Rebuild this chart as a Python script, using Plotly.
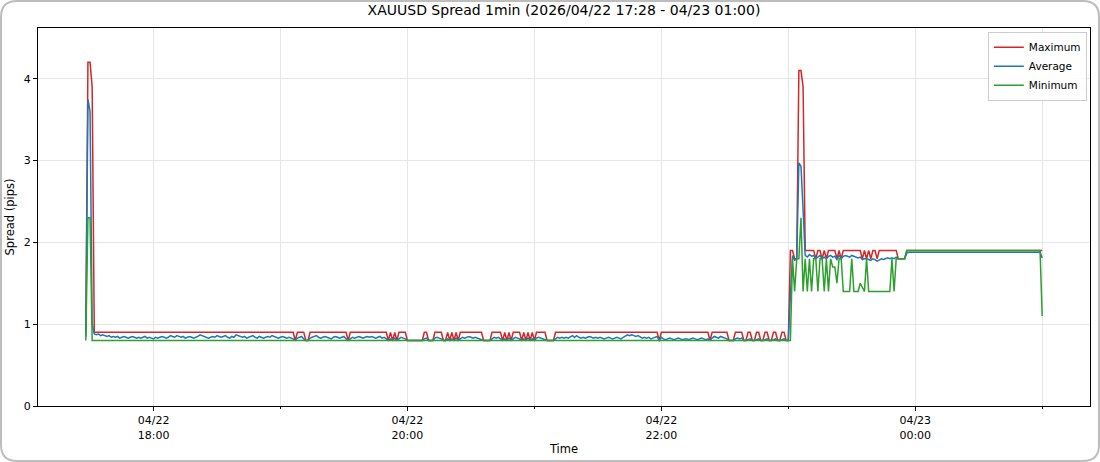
import pandas as pd
import plotly.graph_objects as go

# ---------------- data (1-minute spread in pips, 17:28 -> 01:00) ----------------
start_time = "2026-04-22 17:28"

max_pips = [
    0.9, 4.2, 4.2, 3.9, 0.9, 0.9, 0.9, 0.9, 0.9, 0.9,
    0.9, 0.9, 0.9, 0.9, 0.9, 0.9, 0.9, 0.9, 0.9, 0.9,
    0.9, 0.9, 0.9, 0.9, 0.9, 0.9, 0.9, 0.9, 0.9, 0.9,
    0.9, 0.9, 0.9, 0.9, 0.9, 0.9, 0.9, 0.9, 0.9, 0.9,
    0.9, 0.9, 0.9, 0.9, 0.9, 0.9, 0.9, 0.9, 0.9, 0.9,
    0.9, 0.9, 0.9, 0.9, 0.9, 0.9, 0.9, 0.9, 0.9, 0.9,
    0.9, 0.9, 0.9, 0.9, 0.9, 0.9, 0.9, 0.9, 0.9, 0.9,
    0.9, 0.9, 0.9, 0.9, 0.9, 0.9, 0.9, 0.9, 0.9, 0.9,
    0.9, 0.9, 0.9, 0.9, 0.9, 0.9, 0.9, 0.9, 0.9, 0.9,
    0.9, 0.9, 0.9, 0.9, 0.9, 0.9, 0.9, 0.9, 0.9, 0.8,
    0.9, 0.9, 0.9, 0.9, 0.8, 0.8, 0.9, 0.9, 0.9, 0.9,
    0.9, 0.9, 0.9, 0.9, 0.9, 0.9, 0.9, 0.9, 0.9, 0.9,
    0.9, 0.9, 0.9, 0.9, 0.8, 0.9, 0.9, 0.9, 0.9, 0.9,
    0.9, 0.9, 0.9, 0.9, 0.9, 0.9, 0.9, 0.9, 0.9, 0.9,
    0.9, 0.9, 0.9, 0.8, 0.9, 0.8, 0.9, 0.8, 0.9, 0.9,
    0.9, 0.9, 0.8, 0.8, 0.8, 0.8, 0.8, 0.8, 0.8, 0.8,
    0.9, 0.9, 0.8, 0.8, 0.8, 0.9, 0.9, 0.9, 0.9, 0.8,
    0.8, 0.9, 0.8, 0.9, 0.8, 0.9, 0.8, 0.9, 0.9, 0.9,
    0.9, 0.9, 0.9, 0.9, 0.9, 0.9, 0.9, 0.9, 0.8, 0.8,
    0.8, 0.8, 0.9, 0.9, 0.9, 0.9, 0.9, 0.8, 0.9, 0.8,
    0.9, 0.8, 0.9, 0.9, 0.9, 0.9, 0.8, 0.9, 0.8, 0.9,
    0.8, 0.9, 0.8, 0.9, 0.9, 0.9, 0.9, 0.9, 0.8, 0.8,
    0.8, 0.8, 0.9, 0.9, 0.9, 0.9, 0.9, 0.9, 0.9, 0.9,
    0.9, 0.9, 0.9, 0.9, 0.9, 0.9, 0.9, 0.9, 0.9, 0.9,
    0.9, 0.9, 0.9, 0.9, 0.9, 0.9, 0.9, 0.9, 0.9, 0.9,
    0.9, 0.9, 0.9, 0.9, 0.9, 0.9, 0.9, 0.9, 0.9, 0.9,
    0.9, 0.9, 0.9, 0.9, 0.9, 0.9, 0.9, 0.9, 0.9, 0.9,
    0.9, 0.8, 0.9, 0.9, 0.9, 0.9, 0.9, 0.9, 0.9, 0.9,
    0.9, 0.9, 0.9, 0.9, 0.9, 0.9, 0.9, 0.9, 0.9, 0.9,
    0.9, 0.9, 0.9, 0.9, 0.9, 0.8, 0.9, 0.9, 0.9, 0.9,
    0.9, 0.9, 0.9, 0.9, 0.8, 0.8, 0.8, 0.9, 0.9, 0.9,
    0.9, 0.8, 0.8, 0.9, 0.9, 0.8, 0.8, 0.9, 0.9, 0.8,
    0.8, 0.9, 0.9, 0.8, 0.8, 0.9, 0.9, 0.8, 0.8, 0.9,
    0.9, 0.8, 0.8, 1.9, 1.9, 1.8, 1.8, 4.1, 4.1, 3.9,
    1.9, 1.9, 1.9, 1.9, 1.9, 1.8, 1.9, 1.9, 1.8, 1.9,
    1.8, 1.9, 1.9, 1.9, 1.9, 1.8, 1.9, 1.8, 1.9, 1.9,
    1.9, 1.9, 1.9, 1.9, 1.9, 1.9, 1.9, 1.8, 1.9, 1.8,
    1.9, 1.8, 1.9, 1.9, 1.8, 1.9, 1.9, 1.9, 1.9, 1.9,
    1.9, 1.9, 1.9, 1.9, 1.8, 1.8, 1.8, 1.8, 1.9, 1.9,
    1.9, 1.9, 1.9, 1.9, 1.9, 1.9, 1.9, 1.9, 1.9, 1.9,
    1.9, 1.9, 1.9, 1.9, 1.9, 1.9, 1.9, 1.9, 1.9, 1.9,
    1.9, 1.9, 1.9, 1.9, 1.9, 1.9, 1.9, 1.9, 1.9, 1.9,
    1.9, 1.9, 1.9, 1.9, 1.9, 1.9, 1.9, 1.9, 1.9, 1.9,
    1.9, 1.9, 1.9, 1.9, 1.9, 1.9, 1.9, 1.9, 1.9, 1.9,
    1.9, 1.9, 1.9, 1.9, 1.9, 1.9, 1.9, 1.9, 1.9, 1.9,
    1.9, 1.9, 1.9,
]

avg_pips = [
    0.85, 3.75, 3.60, 1.00,
    0.88, 0.87, 0.88, 0.86, 0.87, 0.86, 0.85, 0.86, 0.84, 0.85,
    0.84, 0.85, 0.83, 0.84, 0.85, 0.84, 0.83, 0.84, 0.85, 0.84,
    0.83, 0.84, 0.83, 0.84, 0.85, 0.83, 0.84, 0.83, 0.82, 0.84,
    0.83, 0.84, 0.85, 0.84, 0.83, 0.84, 0.86, 0.85, 0.84, 0.86,
    0.85, 0.84, 0.85, 0.83, 0.84, 0.85, 0.84, 0.83, 0.84, 0.85,
    0.87, 0.86, 0.85, 0.84, 0.83, 0.84, 0.85, 0.84, 0.86, 0.85,
    0.84, 0.85, 0.86, 0.84, 0.83, 0.85, 0.84, 0.87, 0.86, 0.85,
    0.84, 0.85, 0.83, 0.84, 0.85, 0.86, 0.84, 0.83, 0.85, 0.84,
    0.83, 0.84, 0.85, 0.84, 0.86, 0.85, 0.84, 0.83, 0.84, 0.85,
    0.84, 0.83, 0.84, 0.83, 0.82, 0.80, 0.83, 0.84, 0.85, 0.82,
    0.80, 0.80, 0.83, 0.84, 0.85, 0.86, 0.84, 0.83, 0.84, 0.85,
    0.84, 0.83, 0.82, 0.84, 0.85, 0.84, 0.83, 0.84, 0.85, 0.82,
    0.80, 0.82, 0.84, 0.83, 0.84, 0.85, 0.84, 0.83, 0.84, 0.85,
    0.84, 0.85, 0.84, 0.83, 0.84, 0.85, 0.83, 0.84, 0.82, 0.80,
    0.82, 0.80, 0.83, 0.80, 0.82, 0.84, 0.83, 0.82, 0.80, 0.80,
    0.80, 0.80, 0.80, 0.80, 0.80, 0.80, 0.82, 0.83, 0.80, 0.80,
    0.80, 0.83, 0.84, 0.83, 0.82, 0.80, 0.80, 0.82, 0.80, 0.82,
    0.80, 0.83, 0.80, 0.82, 0.84, 0.83, 0.84, 0.85, 0.84, 0.83,
    0.84, 0.83, 0.82, 0.81, 0.80, 0.80, 0.80, 0.80, 0.82, 0.84,
    0.83, 0.84, 0.82, 0.80, 0.82, 0.80, 0.83, 0.80, 0.82, 0.84,
    0.83, 0.82, 0.80, 0.82, 0.80, 0.83, 0.80, 0.82, 0.80, 0.83,
    0.84, 0.83, 0.82, 0.81, 0.80, 0.80, 0.80, 0.80, 0.82, 0.84,
    0.83, 0.84, 0.83, 0.84, 0.83, 0.85, 0.86, 0.84, 0.86, 0.84,
    0.83, 0.84, 0.83, 0.84, 0.85, 0.84, 0.83, 0.84, 0.83, 0.84,
    0.83, 0.82, 0.83, 0.84, 0.83, 0.82, 0.83, 0.84, 0.83, 0.82,
    0.84, 0.86, 0.87, 0.86, 0.87, 0.86, 0.85, 0.86, 0.84, 0.83,
    0.84, 0.83, 0.84, 0.82, 0.83, 0.84, 0.85, 0.80, 0.84, 0.82,
    0.81, 0.82, 0.83, 0.82, 0.81, 0.82, 0.83, 0.82, 0.81, 0.82,
    0.82, 0.81, 0.82, 0.83, 0.82, 0.81, 0.82, 0.83, 0.82, 0.81,
    0.82, 0.80, 0.83, 0.85, 0.84, 0.83, 0.85, 0.84, 0.83, 0.82,
    0.80, 0.80, 0.80, 0.82, 0.83, 0.82, 0.83, 0.80, 0.80, 0.81,
    0.82, 0.80, 0.80, 0.81, 0.82, 0.80, 0.80, 0.81, 0.82, 0.80,
    0.80, 0.81, 0.82, 0.80, 0.80, 0.81, 0.82, 0.80,
    0.80,
    1.35, 1.84, 1.78, 1.80, 2.97, 2.93, 2.40,
    1.84, 1.82, 1.85, 1.83, 1.84, 1.80, 1.82, 1.84, 1.80, 1.82,
    1.80, 1.83, 1.84, 1.82, 1.83, 1.79, 1.84, 1.80, 1.83, 1.84,
    1.83, 1.82, 1.84, 1.83, 1.82, 1.81, 1.82, 1.79, 1.80, 1.80,
    1.79, 1.78, 1.80, 1.79, 1.77, 1.79, 1.80, 1.79, 1.80, 1.81,
    1.80, 1.81, 1.80, 1.82, 1.80, 1.80, 1.80, 1.80, 1.87, 1.88,
    1.88, 1.88, 1.88, 1.88, 1.88, 1.88, 1.88, 1.88, 1.88, 1.88,
    1.88, 1.88, 1.88, 1.88, 1.88, 1.88, 1.88, 1.88, 1.88, 1.88,
    1.88, 1.88, 1.88, 1.88, 1.88, 1.88, 1.88, 1.88, 1.88, 1.88,
    1.88, 1.88, 1.88, 1.88, 1.88, 1.88, 1.88, 1.88, 1.88, 1.88,
    1.88, 1.88, 1.88, 1.88, 1.88, 1.88, 1.88, 1.88, 1.88, 1.88,
    1.88, 1.88, 1.88, 1.88, 1.88, 1.88, 1.88, 1.88, 1.88, 1.88,
    1.88, 1.88, 1.81,
]

min_pips = [
    0.8, 2.3, 2.3, 0.8, 0.8, 0.8, 0.8, 0.8, 0.8, 0.8,
    0.8, 0.8, 0.8, 0.8, 0.8, 0.8, 0.8, 0.8, 0.8, 0.8,
    0.8, 0.8, 0.8, 0.8, 0.8, 0.8, 0.8, 0.8, 0.8, 0.8,
    0.8, 0.8, 0.8, 0.8, 0.8, 0.8, 0.8, 0.8, 0.8, 0.8,
    0.8, 0.8, 0.8, 0.8, 0.8, 0.8, 0.8, 0.8, 0.8, 0.8,
    0.8, 0.8, 0.8, 0.8, 0.8, 0.8, 0.8, 0.8, 0.8, 0.8,
    0.8, 0.8, 0.8, 0.8, 0.8, 0.8, 0.8, 0.8, 0.8, 0.8,
    0.8, 0.8, 0.8, 0.8, 0.8, 0.8, 0.8, 0.8, 0.8, 0.8,
    0.8, 0.8, 0.8, 0.8, 0.8, 0.8, 0.8, 0.8, 0.8, 0.8,
    0.8, 0.8, 0.8, 0.8, 0.8, 0.8, 0.8, 0.8, 0.8, 0.8,
    0.8, 0.8, 0.8, 0.8, 0.8, 0.8, 0.8, 0.8, 0.8, 0.8,
    0.8, 0.8, 0.8, 0.8, 0.8, 0.8, 0.8, 0.8, 0.8, 0.8,
    0.8, 0.8, 0.8, 0.8, 0.8, 0.8, 0.8, 0.8, 0.8, 0.8,
    0.8, 0.8, 0.8, 0.8, 0.8, 0.8, 0.8, 0.8, 0.8, 0.8,
    0.8, 0.8, 0.8, 0.8, 0.8, 0.8, 0.8, 0.8, 0.8, 0.8,
    0.8, 0.8, 0.8, 0.8, 0.8, 0.8, 0.8, 0.8, 0.8, 0.8,
    0.8, 0.8, 0.8, 0.8, 0.8, 0.8, 0.8, 0.8, 0.8, 0.8,
    0.8, 0.8, 0.8, 0.8, 0.8, 0.8, 0.8, 0.8, 0.8, 0.8,
    0.8, 0.8, 0.8, 0.8, 0.8, 0.8, 0.8, 0.8, 0.8, 0.8,
    0.8, 0.8, 0.8, 0.8, 0.8, 0.8, 0.8, 0.8, 0.8, 0.8,
    0.8, 0.8, 0.8, 0.8, 0.8, 0.8, 0.8, 0.8, 0.8, 0.8,
    0.8, 0.8, 0.8, 0.8, 0.8, 0.8, 0.8, 0.8, 0.8, 0.8,
    0.8, 0.8, 0.8, 0.8, 0.8, 0.8, 0.8, 0.8, 0.8, 0.8,
    0.8, 0.8, 0.8, 0.8, 0.8, 0.8, 0.8, 0.8, 0.8, 0.8,
    0.8, 0.8, 0.8, 0.8, 0.8, 0.8, 0.8, 0.8, 0.8, 0.8,
    0.8, 0.8, 0.8, 0.8, 0.8, 0.8, 0.8, 0.8, 0.8, 0.8,
    0.8, 0.8, 0.8, 0.8, 0.8, 0.8, 0.8, 0.8, 0.8, 0.8,
    0.8, 0.8, 0.8, 0.8, 0.8, 0.8, 0.8, 0.8, 0.8, 0.8,
    0.8, 0.8, 0.8, 0.8, 0.8, 0.8, 0.8, 0.8, 0.8, 0.8,
    0.8, 0.8, 0.8, 0.8, 0.8, 0.8, 0.8, 0.8, 0.8, 0.8,
    0.8, 0.8, 0.8, 0.8, 0.8, 0.8, 0.8, 0.8, 0.8, 0.8,
    0.8, 0.8, 0.8, 0.8, 0.8, 0.8, 0.8, 0.8, 0.8, 0.8,
    0.8, 0.8, 0.8, 0.8, 0.8, 0.8, 0.8, 0.8, 0.8, 0.8,
    0.8, 0.8, 0.8, 0.8, 1.8, 1.4, 1.8, 1.8, 2.3, 1.4,
    1.8, 1.4, 1.8, 1.4, 1.8, 1.8, 1.4, 1.8, 1.8, 1.4,
    1.8, 1.4, 1.8, 1.7, 1.7, 1.5, 1.8, 1.8, 1.4, 1.4,
    1.4, 1.4, 1.8, 1.4, 1.4, 1.4, 1.5, 1.45, 1.4, 1.8,
    1.4, 1.4, 1.4, 1.4, 1.4, 1.4, 1.4, 1.4, 1.4, 1.4,
    1.4, 1.8, 1.4, 1.8, 1.8, 1.8, 1.8, 1.8, 1.9, 1.9,
    1.9, 1.9, 1.9, 1.9, 1.9, 1.9, 1.9, 1.9, 1.9, 1.9,
    1.9, 1.9, 1.9, 1.9, 1.9, 1.9, 1.9, 1.9, 1.9, 1.9,
    1.9, 1.9, 1.9, 1.9, 1.9, 1.9, 1.9, 1.9, 1.9, 1.9,
    1.9, 1.9, 1.9, 1.9, 1.9, 1.9, 1.9, 1.9, 1.9, 1.9,
    1.9, 1.9, 1.9, 1.9, 1.9, 1.9, 1.9, 1.9, 1.9, 1.9,
    1.9, 1.9, 1.9, 1.9, 1.9, 1.9, 1.9, 1.9, 1.9, 1.9,
    1.9, 1.9, 1.1,
]

major_ticks = ["2026-04-22 18:00", "2026-04-22 20:00", "2026-04-22 22:00", "2026-04-23 00:00"]
major_labels = ["04/22<br>18:00", "04/22<br>20:00", "04/22<br>22:00", "04/23<br>00:00"]
minor_ticks = ["2026-04-22 19:00", "2026-04-22 21:00", "2026-04-22 23:00", "2026-04-23 01:00"]
y_ticks = [0, 1, 2, 3, 4]

n = min(len(max_pips), len(avg_pips), len(min_pips))
times = pd.date_range(start_time, periods=n, freq="min")

# ---------------- figure ----------------
W, H = 1100, 462
ML, MR, MT, MB = 38, 10, 28, 56
PW, PH = W - ML - MR, H - MT - MB

FONT = "DejaVu Sans"
fig = go.Figure()
fig.add_trace(go.Scatter(x=times, y=max_pips[:n], name="Maximum", mode="lines",
                         line=dict(color="#d62728", width=1.5)))
fig.add_trace(go.Scatter(x=times, y=avg_pips[:n], name="Average", mode="lines",
                         line=dict(color="#1f77b4", width=1.5)))
fig.add_trace(go.Scatter(x=times, y=min_pips[:n], name="Minimum", mode="lines",
                         line=dict(color="#2ca02c", width=1.5)))

span = times[-1] - times[0]
pad = span * 0.05
x_range = [times[0] - pad, times[-1] + pad]
y_range = [0, max(max_pips) * 1.1]


def px(x):
    return (x - ML) / PW


def py(y):
    return (H - MB - y) / PH


# rounded outer frame (in paper coordinates)
x0, x1, y0, y1, r = 1, W - 1, 1, H - 1, 16
frame = (
    f"M {px(x0 + r)},{py(y0)} L {px(x1 - r)},{py(y0)} Q {px(x1)},{py(y0)} {px(x1)},{py(y0 + r)} "
    f"L {px(x1)},{py(y1 - r)} Q {px(x1)},{py(y1)} {px(x1 - r)},{py(y1)} "
    f"L {px(x0 + r)},{py(y1)} Q {px(x0)},{py(y1)} {px(x0)},{py(y1 - r)} "
    f"L {px(x0)},{py(y0 + r)} Q {px(x0)},{py(y0)} {px(x0 + r)},{py(y0)} Z"
)

fig.update_layout(
    width=W, height=H,
    margin=dict(l=ML, r=MR, t=MT, b=MB, autoexpand=False),
    paper_bgcolor="white", plot_bgcolor="white",
    font=dict(family=FONT, size=11, color="black"),
    title=dict(text="XAUUSD Spread 1min (2026/04/22 17:28 - 04/23 01:00)",
               x=0.5, xref="paper", xanchor="center",
               y=1 - 10 / H, yref="container", yanchor="middle",
               font=dict(family=FONT, size=14, color="black")),
    showlegend=True,
    legend=dict(x=0.997, y=0.99, xanchor="right", yanchor="top",
                bgcolor="rgba(255,255,255,0.85)", bordercolor="#cccccc", borderwidth=1,
                font=dict(family=FONT, size=10.5), itemwidth=30, tracegroupgap=0),
    shapes=[dict(type="path", xref="paper", yref="paper", path=frame,
                 line=dict(color="#bdbdbd", width=2), layer="above")],
)

fig.update_xaxes(
    range=x_range, type="date",
    tickmode="array", tickvals=major_ticks, ticktext=major_labels,
    ticks="outside", ticklen=4, tickwidth=1, tickcolor="black",
    tickfont=dict(family=FONT, size=11),
    showgrid=True, gridcolor="#e6e6e6", gridwidth=1,
    minor=dict(tickmode="array", tickvals=minor_ticks, ticks="outside", ticklen=2,
               tickcolor="black", showgrid=True, gridcolor="#e6e6e6", gridwidth=1),
    showline=True, linecolor="black", linewidth=1, mirror=True, zeroline=False,
    title=dict(text="Time", font=dict(family=FONT, size=11.5), standoff=4),
)
fig.update_yaxes(
    range=y_range, tickmode="array", tickvals=y_ticks,
    ticks="outside", ticklen=4, tickwidth=1, tickcolor="black",
    tickfont=dict(family=FONT, size=11),
    showgrid=True, gridcolor="#e6e6e6", gridwidth=1,
    showline=True, linecolor="black", linewidth=1, mirror=True, zeroline=False,
    title=dict(text="Spread (pips)", font=dict(family=FONT, size=11.5), standoff=6),
)

fig.write_html(
    "out.html",
    config={"displayModeBar": False},
    post_script="document.body.style.margin='0';document.body.style.overflow='hidden';",
)
